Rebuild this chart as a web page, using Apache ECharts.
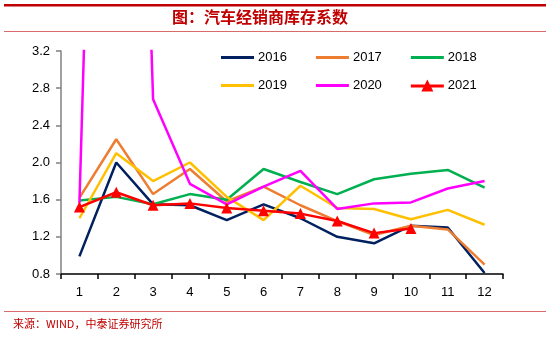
<!DOCTYPE html>
<html>
<head>
<meta charset="utf-8">
<script src="https://cdn.jsdelivr.net/npm/echarts@6/dist/echarts.min.js"></script>
<style>html,body{margin:0;padding:0;background:#fff;}#c{width:550px;height:338px;}</style>
</head>
<body>
<div id="c"></div>
<script>
var categories = ['1','2','3','4','5','6','7','8','9','10','11','12'];
var s2016 = [0.99, 2.00, 1.55, 1.54, 1.38, 1.55, 1.40, 1.20, 1.13, 1.32, 1.30, 0.81];
var s2017 = [1.62, 2.25, 1.66, 1.93, 1.58, 1.74, 1.54, 1.37, 1.22, 1.32, 1.28, 0.90];
var s2018 = [1.59, 1.63, 1.55, 1.66, 1.60, 1.93, 1.79, 1.66, 1.82, 1.88, 1.92, 1.73];
var s2019 = [1.40, 2.10, 1.80, 2.00, 1.63, 1.38, 1.75, 1.51, 1.50, 1.39, 1.49, 1.33];
var s2020 = [1.56, 15.0, 2.68, 1.77, 1.55, 1.74, 1.91, 1.50, 1.56, 1.57, 1.72, 1.80];
var s2021 = [1.52, 1.68, 1.54, 1.56, 1.51, 1.48, 1.45, 1.37, 1.24, 1.29];
var legendRow1 = ['2016','2017','2018'];
var legendRow2 = ['2019','2020','2021'];
var yTicks = [0.8, 1.2, 1.6, 2.0, 2.4, 2.8, 3.2];

var chart = echarts.init(document.getElementById('c'), null, {renderer:'canvas'});
function line(name, data, color, extra){
  var o = {name:name, type:'line', data:data, symbol:'none', showSymbol:false,
    lineStyle:{color:color, width:2.5}, itemStyle:{color:color}, z:2, animation:false};
  if(extra){ for(var k in extra) o[k]=extra[k]; }
  return o;
}
var font = 'Liberation Sans, Arial, sans-serif';
var lineIcon = 'path://M0,0H33V3H0Z';
var triIcon = 'path://M0,5H33V8H0Z M16.5,0L22.5,12H10.5Z';
function legendItems(names){
  return names.map(function(n){ return {name:n, icon: n==='2021' ? triIcon : lineIcon}; });
}
function mkLegend(names, top){
  return {data:legendItems(names), left:216, top:top, itemWidth:33, itemHeight:12, itemGap:29,
    textStyle:{fontSize:13, fontFamily:font, color:'#000', padding:[0,0,0,-1]}};
}
var option = {
  animation:false,
  grid:{left:61, right:47, top:51, bottom:64},
  legend:[mkLegend(legendRow1, 46), mkLegend(legendRow2, 74)],
  xAxis:{type:'category', data:categories, boundaryGap:true,
    axisLine:{lineStyle:{color:'#000', width:1.5}},
    axisTick:{show:true, inside:false, length:5, lineStyle:{color:'#000', width:1.5}},
    axisLabel:{fontSize:13, fontFamily:font, color:'#000', margin:12}
  },
  yAxis:{type:'value', min:yTicks[0], max:yTicks[yTicks.length-1], interval:0.4,
    axisLine:{show:true, lineStyle:{color:'#808080', width:1.5}},
    axisTick:{show:true, length:5, lineStyle:{color:'#808080', width:1.5}},
    splitLine:{show:false},
    axisLabel:{fontSize:13, fontFamily:font, color:'#000', margin:11, formatter:function(v){return v.toFixed(1);}}
  },
  series:[
    line('2016', s2016, '#002060'),
    line('2017', s2017, '#ED7D31'),
    line('2018', s2018, '#00B050'),
    line('2019', s2019, '#FFC000'),
    line('2020', s2020, '#FF00FF'),
    line('2021', s2021, '#FF0000', {symbol:'triangle', showSymbol:true, symbolSize:11, z:3})
  ],
  graphic:[
    {type:'rect', shape:{x:4, y:4, width:542, height:2.5}, style:{fill:'#C00000'}},
    {type:'text', left:172, top:9, style:{text:'图：汽车经销商库存系数', font:'bold 16px "Noto Sans CJK SC"', fill:'#C00000'}},
    {type:'rect', shape:{x:4, y:31, width:542, height:1}, style:{fill:'#D86A6A'}},
    {type:'rect', shape:{x:4, y:311, width:542, height:1}, style:{fill:'#D86A6A'}},
    {type:'text', left:13, top:318, style:{text:'来源：WIND，中泰证券研究所', font:'11px "Noto Sans CJK SC"', fill:'#C00000'}}
  ]
};
chart.setOption(option);
</script>
</body>
</html>
